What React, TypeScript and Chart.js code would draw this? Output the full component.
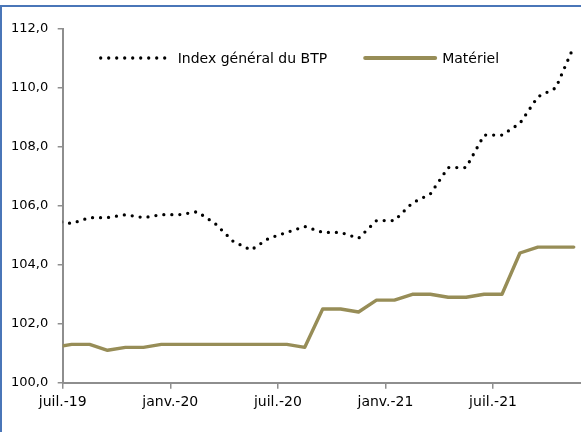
import React, { useEffect, useRef } from 'react';
import { Chart, registerables } from 'chart.js';

Chart.register(...registerables);

// Monthly observations, June 2019 .. November 2021
const months = [
  'juin-19', 'juil.-19', 'août-19', 'sept.-19', 'oct.-19', 'nov.-19', 'déc.-19',
  'janv.-20', 'févr.-20', 'mars-20', 'avr.-20', 'mai-20', 'juin-20', 'juil.-20',
  'août-20', 'sept.-20', 'oct.-20', 'nov.-20', 'déc.-20',
  'janv.-21', 'févr.-21', 'mars-21', 'avr.-21', 'mai-21', 'juin-21', 'juil.-21',
  'août-21', 'sept.-21', 'oct.-21', 'nov.-21',
];

const indexBTP = [
  105.5, 105.4, 105.6, 105.6, 105.7, 105.6, 105.7,
  105.7, 105.8, 105.4, 104.8, 104.5, 104.9, 105.1,
  105.3, 105.1, 105.1, 104.9, 105.5,
  105.5, 106.1, 106.4, 107.3, 107.3, 108.4, 108.4,
  108.8, 109.7, 110.0, 111.4,
];

const materiel = [
  101.2, 101.3, 101.3, 101.1, 101.2, 101.2, 101.3,
  101.3, 101.3, 101.3, 101.3, 101.3, 101.3, 101.3,
  101.2, 102.5, 102.5, 102.4, 102.8,
  102.8, 103.0, 103.0, 102.9, 102.9, 103.0, 103.0,
  104.4, 104.6, 104.6, 104.6,
];

const xTickLabels = ['juil.-19', 'janv.-20', 'juil.-20', 'janv.-21', 'juil.-21'];
const yMin = 100;
const yMax = 112;
const yStep = 2;

const seriesLabels = ['Index général du BTP', 'Matériel'];

const FONT = '"DejaVu Sans", Verdana, sans-serif';

// each month occupies one unit; month i (from list) is centered at i - 0.5,
// so the boundary at the start of month i sits at i - 1
const toPoints = (vals: number[]) => vals.map((v, i) => ({ x: i - 0.5, y: v }));
const tickValues = xTickLabels.map((l) => months.indexOf(l) - 1);

const insideLegend = {
  id: 'insideLegend',
  afterDatasetsDraw(chart: any) {
    const { ctx, chartArea } = chart;
    ctx.save();
    ctx.font = '14px ' + FONT;
    ctx.textBaseline = 'middle';
    ctx.textAlign = 'left';
    let x = chartArea.left + 38;
    const y = chartArea.top + 29;
    chart.data.datasets.forEach((ds: any) => {
      ctx.beginPath();
      ctx.strokeStyle = ds.borderColor;
      ctx.lineWidth = ds.legendLineWidth;
      ctx.lineCap = ds.borderCapStyle;
      ctx.setLineDash(ds.borderDash || []);
      ctx.moveTo(x, y);
      ctx.lineTo(x + 70, y);
      ctx.stroke();
      ctx.setLineDash([]);
      ctx.fillStyle = '#000';
      ctx.fillText(ds.label, x + 77, y + 1);
      x += 77 + ctx.measureText(ds.label).width + 38;
    });
    ctx.restore();
  },
};

export default function App() {
  const canvasRef = useRef<HTMLCanvasElement | null>(null);

  useEffect(() => {
    if (!canvasRef.current) return;
    const chart = new Chart(canvasRef.current, {
      type: 'line',
      data: {
        datasets: [
          {
            label: seriesLabels[0],
            data: toPoints(indexBTP),
            borderColor: '#000000',
            borderWidth: 3.3,
            borderDash: [0, 8],
            borderCapStyle: 'round',
            pointRadius: 0,
            tension: 0,
            fill: false,
            legendLineWidth: 3.3,
          } as any,
          {
            label: seriesLabels[1],
            data: toPoints(materiel),
            borderColor: '#978d57',
            borderWidth: 3.4,
            borderCapStyle: 'round',
            borderJoinStyle: 'round',
            pointRadius: 0,
            tension: 0,
            fill: false,
            legendLineWidth: 4,
          } as any,
        ],
      },
      options: {
        responsive: false,
        animation: false,
        layout: { padding: { top: 29, right: 17.3, bottom: 0, left: 0 } },
        plugins: {
          legend: { display: false },
          tooltip: { enabled: false },
        },
        scales: {
          x: {
            type: 'linear',
            min: 0,
            max: months.length - 1,
            afterFit: (scale: any) => { scale.height = 49.3; },
            afterBuildTicks: (scale: any) => {
              scale.ticks = tickValues.map((value) => ({ value }));
            },
            ticks: {
              callback: (value: any) => months[Number(value) + 1],
              color: '#000',
              font: { family: FONT, size: 14 },
              padding: 5,
              maxRotation: 0,
              autoSkip: false,
            },
            grid: {
              drawOnChartArea: false,
              drawTicks: true,
              tickLength: 6,
              color: '#8e8e8e',
              lineWidth: 1.5,
            },
            border: { color: '#8e8e8e', width: 2 },
          },
          y: {
            min: yMin,
            max: yMax,
            afterFit: (scale: any) => { scale.width = 62.7; },
            ticks: {
              stepSize: yStep,
              callback: (value: any) => Number(value).toFixed(1).replace('.', ','),
              color: '#000',
              font: { family: FONT, size: 13 },
              padding: 9.5,
            },
            grid: {
              drawOnChartArea: false,
              drawTicks: true,
              tickLength: 5,
              color: '#8e8e8e',
              lineWidth: 1.5,
            },
            border: { color: '#8e8e8e', width: 2 },
          },
        },
      },
      plugins: [insideLegend],
    });
    return () => chart.destroy();
  }, []);

  return (
    <div
      style={{
        position: 'absolute',
        left: 0,
        top: 0,
        width: 581,
        height: 432,
        overflow: 'hidden',
        background: '#ffffff',
      }}
    >
      <div
        style={{
          position: 'absolute',
          left: 0,
          top: 5,
          width: 700,
          height: 600,
          border: '2px solid #4a76b8',
          boxSizing: 'border-box',
        }}
      />
      <canvas
        ref={canvasRef}
        width={600}
        height={432}
        style={{ position: 'absolute', left: 0, top: 0, width: 600, height: 432 }}
      />
    </div>
  );
}
